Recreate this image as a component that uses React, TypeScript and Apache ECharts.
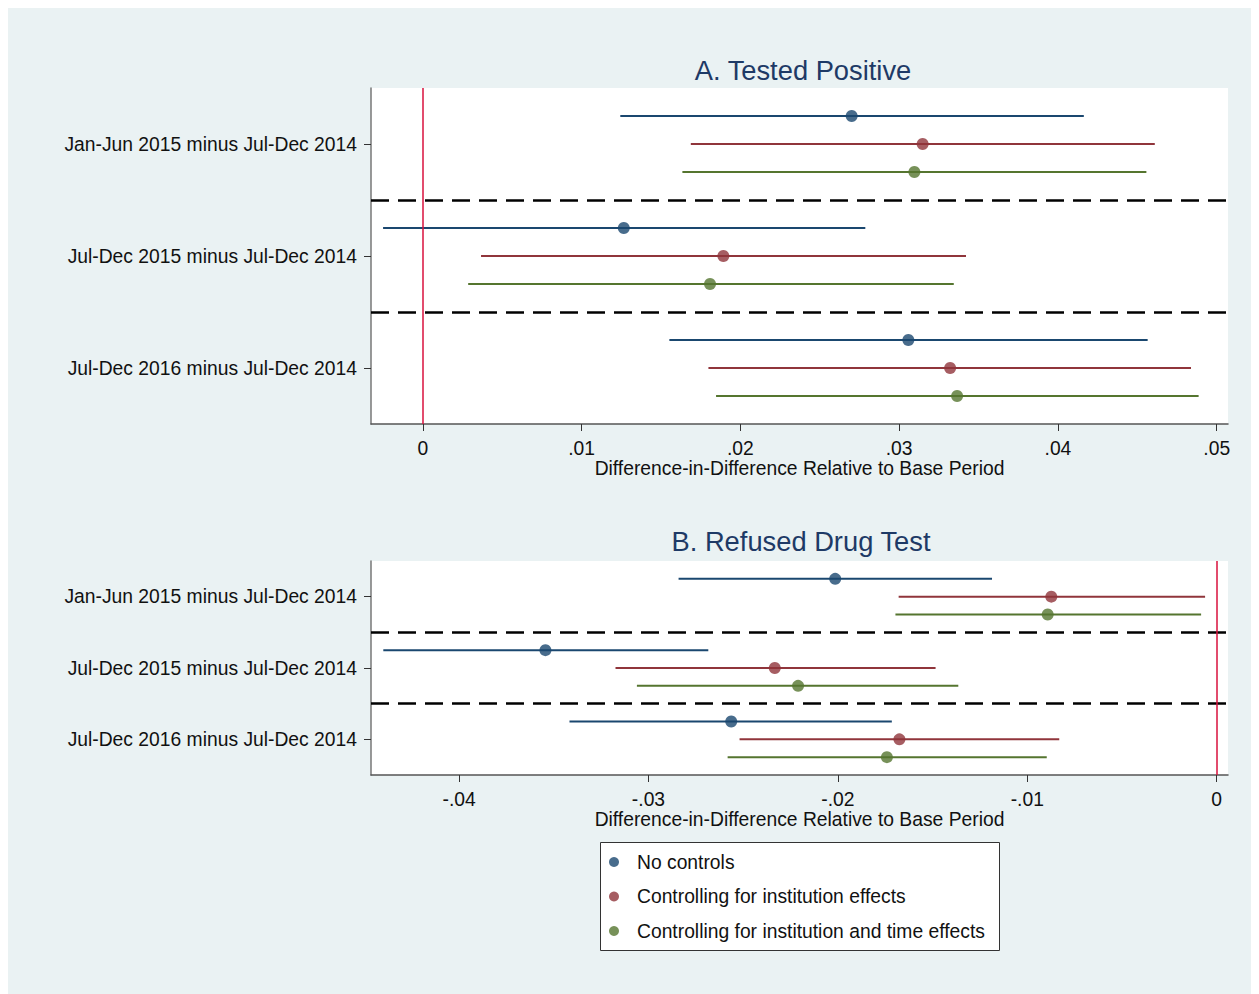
import React, { useEffect, useRef } from "react";
import * as echarts from "echarts";

const categories = [
  "Jan-Jun 2015 minus Jul-Dec 2014",
  "Jul-Dec 2015 minus Jul-Dec 2014",
  "Jul-Dec 2016 minus Jul-Dec 2014",
];
const seriesNames = [
  "No controls",
  "Controlling for institution effects",
  "Controlling for institution and time effects",
];
const colors = ["#1A476F", "#90353B", "#55752F"];

// Panel A: Tested Positive
const aEstNone = [0.02701, 0.01266, 0.03058];
const aLoNone = [0.01244, -0.0025, 0.01553];
const aHiNone = [0.04163, 0.02787, 0.04565];
const aEstInst = [0.03148, 0.01893, 0.03321];
const aLoInst = [0.01688, 0.00367, 0.01799];
const aHiInst = [0.0461, 0.03421, 0.04838];
const aEstTime = [0.03096, 0.01809, 0.03365];
const aLoTime = [0.01635, 0.00286, 0.01847];
const aHiTime = [0.04557, 0.03344, 0.04886];

// Panel B: Refused Drug Test
const bEstNone = [-0.02014, -0.03544, -0.02563];
const bLoNone = [-0.02841, -0.044, -0.03417];
const bHiNone = [-0.01186, -0.02684, -0.01715];
const bEstInst = [-0.00873, -0.02333, -0.01675];
const bLoInst = [-0.01679, -0.03174, -0.02519];
const bHiInst = [-0.00061, -0.01484, -0.00831];
const bEstTime = [-0.00892, -0.0221, -0.01741];
const bLoTime = [-0.01696, -0.03061, -0.02582];
const bHiTime = [-0.00082, -0.01364, -0.00897];

const xTicksA = [0, 0.01, 0.02, 0.03, 0.04, 0.05];
const xTicksB = [-0.04, -0.03, -0.02, -0.01, 0];
const groupTicks = [0, 1, 2];
const rowOffsets = [-0.25, 0, 0.25];
const separators = [0.5, 1.5];

const titleA = "A. Tested Positive";
const titleB = "B. Refused Drug Test";
const xTitle = "Difference-in-Difference Relative to Base Period";

const FONT = "'Liberation Sans', Arial, Helvetica, sans-serif";
const FS = 19.3;

function fmtTick(v: number): string {
  if (Math.abs(v) < 1e-12) return "0";
  const s = Math.abs(v).toFixed(2).replace(/^0/, "");
  return (v < 0 ? "-" : "") + s;
}

export default function App() {
  const ref = useRef<HTMLDivElement>(null);

  useEffect(() => {
    document.body.style.overflow = "hidden";
    const chart = echarts.init(ref.current!, null, { renderer: "svg" });

    const panels = [
      {
        est: [aEstNone, aEstInst, aEstTime],
        lo: [aLoNone, aLoInst, aLoTime],
        hi: [aHiNone, aHiInst, aHiTime],
      },
      {
        est: [bEstNone, bEstInst, bEstTime],
        lo: [bLoNone, bLoInst, bLoTime],
        hi: [bHiNone, bHiInst, bHiTime],
      },
    ];

    const series: any[] = [];
    panels.forEach((p, pi) => {
      for (let m = 0; m < 3; m++) {
        const color = colors[m];
        series.push({
          type: "scatter",
          name: seriesNames[m],
          xAxisIndex: pi,
          yAxisIndex: pi,
          symbol: "circle",
          symbolSize: 12,
          itemStyle: { color },
          data: categories.map((_, g) => [p.est[m][g], g + rowOffsets[m]]),
          z: 4,
          markLine:
            m === 0
              ? {
                  silent: true,
                  symbol: "none",
                  label: { show: false },
                  animation: false,
                  data: [
                    ...separators.map((s) => ({
                      yAxis: s,
                      lineStyle: { color: "#000", width: 2.5, type: [18, 9] },
                    })),
                    {
                      xAxis: 0,
                      lineStyle: { color: "#D8103C", width: 1.5, type: "solid" },
                    },
                  ],
                }
              : undefined,
        });
        series.push({
          type: "custom",
          name: seriesNames[m],
          xAxisIndex: pi,
          yAxisIndex: pi,
          silent: true,
          itemStyle: { color },
          encode: { x: [0, 1], y: 2 },
          data: categories.map((_, g) => [p.lo[m][g], p.hi[m][g], g + rowOffsets[m]]),
          renderItem: (params: any, api: any) => {
            const a = api.coord([api.value(0), api.value(2)]);
            const b = api.coord([api.value(1), api.value(2)]);
            return {
              type: "line",
              shape: { x1: a[0], y1: a[1], x2: b[0], y2: b[1] },
              style: { stroke: color, lineWidth: 2 },
            };
          },
          z: 3,
        });
      }
    });

    const xAxisCommon = (min: number, max: number, ticks: number[]) => ({
      type: "value",
      min,
      max,
      splitLine: { show: false },
      axisLine: { show: true, onZero: false, lineStyle: { color: "#555", width: 1.5 } },
      axisTick: { show: true, length: 7, customValues: ticks, lineStyle: { color: "#333", width: 1 } },
      axisLabel: {
        customValues: ticks,
        formatter: (v: number) => fmtTick(v),
        color: "#111",
        fontSize: FS,
        fontFamily: FONT,
        margin: 15,
      },
      name: xTitle,
      nameLocation: "middle",
      nameGap: 34,
      nameTextStyle: { color: "#111", fontSize: FS, fontFamily: FONT },
    });

    const yAxisCommon = (padTop: number) => ({
      type: "value",
      min: -0.5,
      max: 2.5,
      inverse: true,
      splitLine: { show: false },
      axisLine: { show: true, onZero: false, lineStyle: { color: "#777", width: 1.5 } },
      axisTick: { show: true, length: 7, customValues: groupTicks, lineStyle: { color: "#333", width: 1 } },
      axisLabel: {
        customValues: groupTicks,
        formatter: (v: number) => categories[Math.round(v)] ?? "",
        color: "#111",
        fontSize: FS,
        fontFamily: FONT,
        margin: 14,
        verticalAlign: "middle",
        padding: [padTop, 0, 0, 0],
      },
    });

    chart.setOption({
      animation: false,
      backgroundColor: "#EAF2F3",
      textStyle: { fontFamily: FONT },
      grid: [
        { left: 363, top: 80, width: 857, height: 336, show: true, backgroundColor: "#fff", borderWidth: 0 },
        { left: 363, top: 553, width: 857, height: 214, show: true, backgroundColor: "#fff", borderWidth: 0 },
      ],
      xAxis: [
        { ...xAxisCommon(-0.00326, 0.05071, xTicksA), gridIndex: 0 },
        { ...xAxisCommon(-0.04465, 0.0006, xTicksB), gridIndex: 1 },
      ],
      yAxis: [
        { ...yAxisCommon(3), gridIndex: 0 },
        { ...yAxisCommon(7), gridIndex: 1 },
      ],
      legend: {
        orient: "vertical",
        left: 601,
        top: 844,
        padding: 0,
        itemWidth: 36,
        itemHeight: 10,
        itemGap: 14.5,
        icon: "circle",
        selectedMode: false,
        data: seriesNames.map((n, i) => ({ name: n, itemStyle: { color: colors[i] } })),
        textStyle: { color: "#111", fontSize: FS, fontFamily: FONT, lineHeight: 20 },
      },
      graphic: [
        {
          type: "rect",
          left: 592,
          top: 834,
          shape: { width: 399, height: 108 },
          style: { fill: "#fff", stroke: "#333", lineWidth: 1 },
          z: -1,
          silent: true,
        },
        {
          type: "text",
          x: 795,
          y: 62,
          style: {
            text: titleA,
            fill: "#1E3A66",
            fontSize: 27.3,
            fontFamily: FONT,
            textAlign: "center",
            textVerticalAlign: "middle",
          },
        },
        {
          type: "text",
          x: 793,
          y: 533,
          style: {
            text: titleB,
            fill: "#1E3A66",
            fontSize: 27.3,
            fontFamily: FONT,
            textAlign: "center",
            textVerticalAlign: "middle",
          },
        },
      ],
      series,
    });

    return () => {
      chart.dispose();
    };
  }, []);

  return <div ref={ref} style={{ width: 1251, height: 986 }} />;
}
